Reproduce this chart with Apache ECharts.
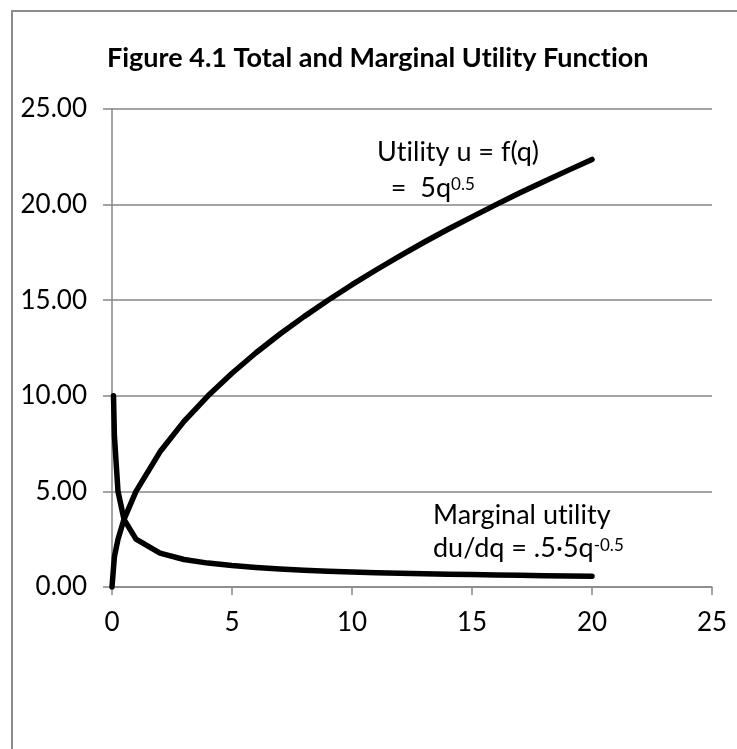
<!DOCTYPE html>
<html>
<head>
<meta charset="utf-8">
<title>Figure 4.1 Total and Marginal Utility Function</title>
<script src="https://cdn.jsdelivr.net/npm/echarts@6/dist/echarts.min.js"></script>
<style>
	html, body { margin: 0; padding: 0; background: #fff; }
	#chartUtility { width: 737px; height: 749px; }
</style>
</head>
<body>
<div id="chartUtility"></div>
<script>
	/* ---------------------------------------------
     Data
--------------------------------------------- */
	const utilityQ = [0, 0.1, 0.25, 0.5, 1, 2, 3, 4, 5, 6, 7, 8, 9, 10, 11, 12, 13, 14, 15, 16, 17, 18, 19, 20];
	const utilityU = [0, 1.58, 2.5, 3.54, 5, 7.07, 8.66, 10, 11.18, 12.25, 13.23, 14.14, 15, 15.81, 16.58, 17.32, 18.03, 18.71, 19.36, 20, 20.62, 21.21, 21.79, 22.36];

	const marginalQ = [0.0625, 0.1, 0.25, 0.5, 1, 2, 3, 4, 5, 6, 7, 8, 9, 10, 11, 12, 13, 14, 15, 16, 17, 18, 19, 20];
	const marginalMU = [10, 7.91, 5, 3.54, 2.5, 1.77, 1.44, 1.25, 1.12, 1.02, 0.94, 0.88, 0.83, 0.79, 0.75, 0.72, 0.69, 0.67, 0.65, 0.63, 0.61, 0.59, 0.57, 0.56];

	const xTicks = [0, 5, 10, 15, 20, 25];
	const yTicks = [0, 5, 10, 15, 20, 25];

	/* ---------------------------------------------
     Helpers
--------------------------------------------- */
	function pairs(xs, ys) {
		return xs.map((x, i) => [x, ys[i]]);
	}

	// Lato joins "ti" into a ligature; drawing the "t" as its own rich
	// token keeps the letters apart like the original
	function noLig(s) {
		return s.replace(/ti/g, '{p|t}i');
	}

	const font = 'Lato, "Open Sans", sans-serif';
	const gridColor = '#868686';

	/* ---------------------------------------------
     Chart
--------------------------------------------- */
	function initChartUtility() {
		const chart = echarts.init(document.getElementById('chartUtility'), null, { renderer: 'canvas' });

		const curveStyle = {
			color: '#000',
			width: 5.5,
			cap: 'round',
			join: 'round',
		};

		const supStyle = {
			fontSize: 17,
			fontFamily: font,
			color: '#000',
			verticalAlign: 'middle',
			padding: [0, 0, 6, 0],
		};

		const plainStyle = {
			fontSize: 27,
			fontFamily: font,
			color: '#000',
		};

		const option = {
			backgroundColor: '#fff',
			animation: false,
			title: {
				text: noLig('Figure 4.1 Total and Marginal Utility Function'),
				left: 102,
				top: 40,
				textStyle: {
					fontFamily: font,
					fontWeight: 'bold',
					fontSize: 27,
					color: '#000',
					rich: {
						p: { fontFamily: font, fontWeight: 'bold', fontSize: 27, color: '#000' },
					},
				},
			},
			grid: {
				left: 112,
				right: 25,
				top: 109,
				bottom: 162,
				containLabel: false,
			},
			xAxis: {
				type: 'value',
				min: xTicks[0],
				max: xTicks[xTicks.length - 1],
				interval: xTicks[1] - xTicks[0],
				axisLine: { show: true, lineStyle: { color: gridColor, width: 1.5 } },
				axisTick: { show: true, length: 8, lineStyle: { color: gridColor, width: 1.5 } },
				splitLine: { show: false },
				axisLabel: {
					margin: 23,
					fontFamily: font,
					fontSize: 26,
					color: '#000',
				},
			},
			yAxis: {
				type: 'value',
				min: yTicks[0],
				max: yTicks[yTicks.length - 1],
				interval: yTicks[1] - yTicks[0],
				axisLine: { show: true, lineStyle: { color: gridColor, width: 1.5 } },
				axisTick: { show: true, length: 9, lineStyle: { color: gridColor, width: 1.5 } },
				splitLine: { show: true, lineStyle: { color: gridColor, width: 1.5 } },
				axisLabel: {
					margin: 25,
					fontFamily: font,
					fontSize: 26,
					color: '#000',
					formatter: (v) => v.toFixed(2),
				},
			},
			series: [
				{
					name: 'Utility',
					type: 'line',
					showSymbol: false,
					smooth: false,
					lineStyle: curveStyle,
					data: pairs(utilityQ, utilityU),
				},
				{
					name: 'Marginal utility',
					type: 'line',
					showSymbol: false,
					smooth: false,
					lineStyle: curveStyle,
					data: pairs(marginalQ, marginalMU),
				},
			],
			graphic: [
				// chart area border (runs off the right and bottom)
				{
					type: 'rect',
					silent: true,
					shape: { x: 12, y: 11, width: 900, height: 900 },
					style: { fill: 'none', stroke: '#8c8c8c', lineWidth: 2 },
				},
				{
					type: 'text',
					left: 377,
					top: 134,
					style: {
						text: `${noLig('Utility u = f(q)')}\n  =  5q{sup|0.5}`,
						font: `27px ${font}`,
						fill: '#000',
						lineHeight: 36,
						rich: { sup: supStyle, p: plainStyle },
					},
				},
				{
					type: 'text',
					left: 433,
					top: 499,
					style: {
						text: `${noLig('Marginal utility')}\ndu/dq = .5\u00b75q{sup|-0.5}`,
						font: `27px ${font}`,
						fill: '#000',
						lineHeight: 33,
						rich: { sup: supStyle, p: plainStyle },
					},
				},
			],
		};

		chart.setOption(option);
	}

	initChartUtility();
</script>
</body>
</html>
